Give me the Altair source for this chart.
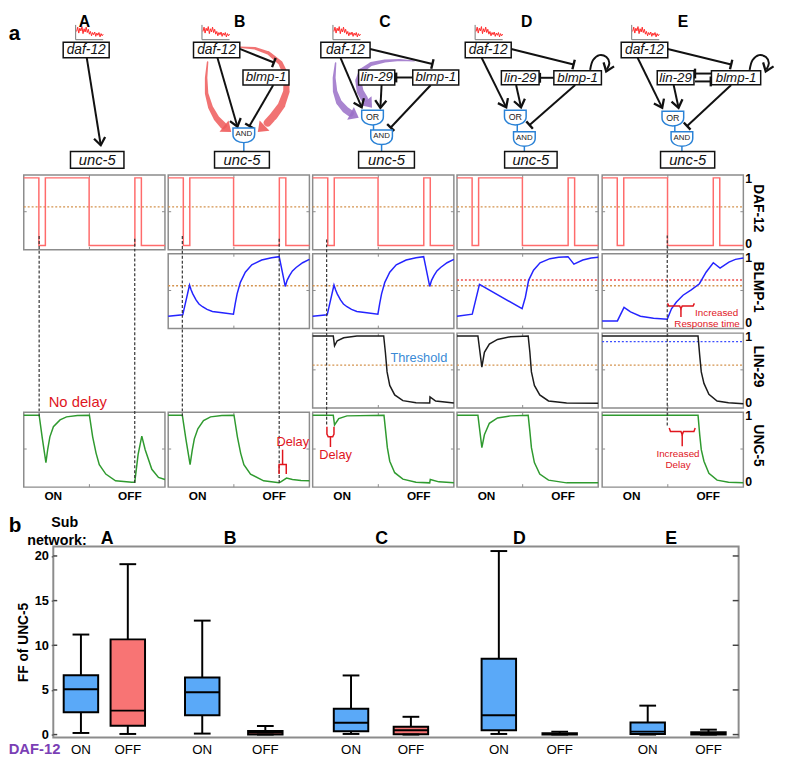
import altair as alt
import pandas as pd

# =====================================================================
# DATA
# time axis of every small panel: 0..100 = panel width
# =====================================================================
COLS = ["A", "B", "C", "D", "E"]
ROWS = ["DAF-12", "BLMP-1", "LIN-29", "UNC-5"]

daf_t = [0, 10.7, 10.7, 15.3, 15.3, 46.3, 46.3, 78.7, 78.7, 83.3, 83.3, 100]
daf_v = [1, 1, 0, 0, 1, 1, 0, 0, 1, 1, 0, 0]

blmp_bc_t = [0, 10.3, 15.1, 16.2, 17.4, 19.7, 21.8, 24.3, 27.5, 31.3, 38.3, 46.2, 47.5,
             48.8, 51.1, 54.6, 59.2, 66.2, 73.2, 78.6, 82.9, 84.2, 85.9, 88.0, 90.6, 95.2, 100]
blmp_bc_v = [0.12, 0.14, 0.58, 0.51, 0.45, 0.36, 0.30, 0.26, 0.22, 0.19, 0.17, 0.15, 0.31,
             0.45, 0.62, 0.77, 0.88, 0.95, 0.985, 1.0, 0.56, 0.65, 0.72, 0.79, 0.84, 0.91, 0.96]
blmp_d_t = [0, 10.8, 15.9, 46.1, 48.4, 50.7, 54.2, 58.8, 65.8, 72.0, 78.6, 82.8, 89.1, 95.0, 100]
blmp_d_v = [0.12, 0.15, 0.59, 0.23, 0.40, 0.65, 0.80, 0.91, 0.97, 0.99, 1.0, 0.89, 0.95, 0.98, 0.99]
blmp_e_t = [0, 10.8, 15.5, 20.1, 27.1, 36.4, 46.1, 49.1, 52.6, 57.3, 63.1, 68.9, 73.6, 78.7,
            83.5, 89.8, 94.4, 100]
blmp_e_v = [0.05, 0.05, 0.25, 0.185, 0.12, 0.09, 0.075, 0.23, 0.33, 0.43, 0.51, 0.60, 0.77, 0.91,
            0.83, 0.92, 0.96, 0.98]

lin_c_t = [0, 14.6, 15.5, 17.4, 22.0, 31.3, 50.3, 51.5, 52.7, 54.6, 58.1, 63.9, 73.2, 82.9,
           83.1, 87.1, 100]
lin_c_v = [1, 1, 0.855, 0.93, 0.975, 1.0, 1.0, 0.76, 0.47, 0.27, 0.13, 0.045, 0.015, 0.01,
           0.10, 0.04, 0.01]
lin_d_t = [0, 14.8, 17.6, 19.4, 22.9, 28.7, 38.0, 50.4, 51.6, 52.7, 54.8, 58.6, 64.8, 77.6, 100]
lin_d_v = [1, 1, 0.54, 0.76, 0.88, 0.95, 0.99, 1.0, 0.76, 0.47, 0.27, 0.13, 0.04, 0.01, 0.005]
lin_e_t = [0, 67.9, 69.1, 70.2, 72.1, 75.6, 81.4, 89.5, 100]
lin_e_v = [1, 1, 0.71, 0.47, 0.30, 0.14, 0.04, 0.015, 0.0]

unc_a_t = [0, 10.9, 13.2, 15.7, 17.0, 18.5, 21.0, 25.7, 30.3, 38.0, 46.5, 48.8, 51.2, 53.5,
           58.1, 65.0, 76.6, 78.6, 81.0, 83.6, 86.0, 90.7, 95.4, 100]
unc_a_v = [1, 1, 0.65, 0.30, 0.50, 0.68, 0.83, 0.93, 0.975, 0.995, 1.0, 0.68, 0.44, 0.27,
           0.13, 0.03, 0.01, 0.01, 0.42, 0.69, 0.49, 0.20, 0.08, 0.05]
unc_b_t = [0, 10.0, 12.5, 15.5, 17.0, 18.5, 21.0, 25.0, 30.0, 38.0, 46.6, 49.0, 51.3, 53.6,
           58.3, 67.6, 78.5, 80.0, 83.8, 88.0, 94.0, 100]
unc_b_v = [1, 1, 0.65, 0.27, 0.48, 0.65, 0.80, 0.92, 0.975, 0.995, 1.0, 0.68, 0.44, 0.27,
           0.13, 0.03, 0.0, 0.02, 0.07, 0.05, 0.035, 0.03]
unc_c_t = [0, 14.6, 15.5, 18.5, 24.3, 50.5, 51.7, 52.9, 54.6, 58.1, 63.9, 73.2, 82.9, 83.3, 89.4, 100]
unc_c_v = [1, 1, 0.855, 0.95, 0.99, 1.0, 0.76, 0.52, 0.32, 0.15, 0.055, 0.01, 0.0, 0.05, 0.015, 0.0]
unc_d_t = [0, 14.8, 17.6, 19.4, 22.9, 28.7, 38.0, 50.4, 51.6, 52.7, 54.8, 58.6, 64.8, 77.6, 100]
unc_d_v = [1, 1, 0.52, 0.71, 0.88, 0.96, 0.99, 1.0, 0.76, 0.52, 0.30, 0.13, 0.04, 0.0, 0.0]
unc_e_t = [0, 67.9, 69.1, 70.2, 72.1, 75.6, 81.4, 89.5, 100]
unc_e_v = [1, 1, 0.71, 0.49, 0.32, 0.14, 0.04, 0.01, 0.0]

threshold_level = 0.57
blmp_red_level = 0.655
lin_blue_level = 0.917

# dashed guides: column, time, start level on DAF-12 panel, end level on UNC-5 panel
dash_col = ["A", "A", "B", "B", "C", "E"]
dash_t = [10.9, 78.6, 10.0, 78.6, 9.9, 46.1]
dash_v_top = [0.14, 0.10, 0.14, 0.10, 0.09, 0.15]
dash_v_bot = [0.96, -0.02, 0.96, -0.02, 0.86, 0.83]

# noise sketch over daf-12
noise_v = [0.55, 0.95, 0.40, 0.85, 0.60, 1.00, 0.35, 0.80, 0.50, 0.95, 0.45, 0.75, 0.30,
           0.55, 0.15, 0.45, 0.25, 0.50, 0.10, 0.40, 0.20, 0.45, 0.05, 0.35, 0.15, 0.30]

# panel b: box plot of FF of UNC-5
box_net = ["A", "A", "B", "B", "C", "C", "D", "D", "E", "E"]
box_state = ["ON", "OFF", "ON", "OFF", "ON", "OFF", "ON", "OFF", "ON", "OFF"]
box_lo = [0.18, 0.07, 0.11, 0.0, 0.07, 0.0, 0.07, 0.0, 0.0, 0.0]
box_q1 = [2.5, 0.99, 2.17, 0.02, 0.37, 0.04, 0.48, 0.0, 0.07, 0.0]
box_med = [5.07, 2.68, 4.74, 0.22, 1.32, 0.48, 2.17, 0.07, 0.33, 0.15]
box_q3 = [6.65, 10.66, 6.4, 0.40, 2.9, 0.88, 8.49, 0.15, 1.36, 0.26]
box_hi = [11.2, 19.08, 12.76, 0.96, 6.62, 1.99, 20.55, 0.33, 3.24, 0.55]
y_ticks = [0, 5, 10, 15, 20]

# =====================================================================
# LAYOUT / STYLE
# =====================================================================
PX0 = {"A": 23.3, "B": 170.0, "C": 316.7, "D": 463.3, "E": 610.7}
PY0 = {"DAF-12": 170.7, "BLMP-1": 250.7, "LIN-29": 331.3, "UNC-5": 411.7}
PW, PH = 143.4, 76.0
VMIN, VMAX = -0.063, 1.043
KX = PW / 100.0
KY = PH / (VMAX - VMIN)
PRESENT = {"DAF-12": COLS, "BLMP-1": ["B", "C", "D", "E"], "LIN-29": ["C", "D", "E"], "UNC-5": COLS}
ROW_COLOR = {"DAF-12": "#ff6b6b", "BLMP-1": "#2424ff", "LIN-29": "#1c1c1c", "UNC-5": "#2f9a2f"}
FRAME = "#8c8c8c"
ORANGE = "#d4934e"
RED = "#e0161e"
BLUE_TXT = "#3a8ad6"
GATE_BLUE = "#2a82d6"
FONT = "Liberation Sans"

FX = f"datum.x0 + datum.t * {KX}"
FY = f"datum.y0 + {PH} - (datum.v - ({VMIN})) * {KY}"

XS = alt.Scale(domain=[53.3, 749.3], nice=False, zero=False)
YS = alt.Scale(domain=[8, 520], nice=False, zero=False, reverse=True)


def TX(f):
    return alt.X(f, type="quantitative", scale=XS, axis=None)


def TY(f):
    return alt.Y(f, type="quantitative", scale=YS, axis=None)


def with_panel(df):
    df["x0"] = df["col"].map(PX0)
    df["y0"] = df["row"].map(PY0)
    return df


# ---------------- time series ----------------
CURVES = [(c, "DAF-12", daf_t, daf_v) for c in COLS] + [
    ("B", "BLMP-1", blmp_bc_t, blmp_bc_v), ("C", "BLMP-1", blmp_bc_t, blmp_bc_v),
    ("D", "BLMP-1", blmp_d_t, blmp_d_v), ("E", "BLMP-1", blmp_e_t, blmp_e_v),
    ("C", "LIN-29", lin_c_t, lin_c_v), ("D", "LIN-29", lin_d_t, lin_d_v),
    ("E", "LIN-29", lin_e_t, lin_e_v),
    ("A", "UNC-5", unc_a_t, unc_a_v), ("B", "UNC-5", unc_b_t, unc_b_v),
    ("C", "UNC-5", unc_c_t, unc_c_v), ("D", "UNC-5", unc_d_t, unc_d_v),
    ("E", "UNC-5", unc_e_t, unc_e_v),
]
recs = []
for c, r, ts, vs in CURVES:
    for i, (t, v) in enumerate(zip(ts, vs)):
        recs.append({"col": c, "row": r, "key": c + "|" + r, "ord": i, "t": t, "v": v,
                     "clr": ROW_COLOR[r]})
curves_df = with_panel(pd.DataFrame(recs))

frames_df = with_panel(pd.DataFrame([{"col": c, "row": r} for r in ROWS for c in PRESENT[r]]))

tick_recs = []
for _, p in frames_df.iterrows():
    tb = p.x0 + 46.5 * KX
    ym = p.y0 + PH - (0.5 - VMIN) * KY
    tick_recs += [
        {"x1": tb, "y1": p.y0 + PH, "x2": tb, "y2": p.y0 + PH - 3},
        {"x1": tb, "y1": p.y0, "x2": tb, "y2": p.y0 + 3},
        {"x1": p.x0, "y1": ym, "x2": p.x0 + 3, "y2": ym},
        {"x1": p.x0 + PW - 3, "y1": ym, "x2": p.x0 + PW, "y2": ym},
    ]
ticks_df = pd.DataFrame(tick_recs)

thr_recs = [{"col": c, "row": r, "v": threshold_level, "clr": ORANGE}
            for r in ["DAF-12", "BLMP-1", "LIN-29"] for c in PRESENT[r]]
thr_recs += [{"col": "D", "row": "BLMP-1", "v": blmp_red_level, "clr": "#ee4a4a"},
             {"col": "E", "row": "BLMP-1", "v": blmp_red_level, "clr": "#ee4a4a"},
             {"col": "E", "row": "LIN-29", "v": lin_blue_level, "clr": "#3a4cff"}]
thr_df = with_panel(pd.DataFrame(thr_recs))

dash_df = pd.DataFrame({"col": dash_col, "t": dash_t, "vt": dash_v_top, "vb": dash_v_bot})
dash_df["x0"] = dash_df["col"].map(PX0)
dash_df["yt"] = PY0["DAF-12"]
dash_df["yb"] = PY0["UNC-5"]

# annotation brackets (panel units)
BRACKETS = [
    ("bd1", "B", "UNC-5", [(78.5, 0.13), (78.5, 0.27), (83.6, 0.27), (83.6, 0.13)]),
    ("bd2", "B", "UNC-5", [(81.0, 0.27), (81.0, 0.49)]),
    ("cd1", "C", "UNC-5", [(10.1, 0.83), (10.1, 0.72), (11.0, 0.68), (14.2, 0.68), (15.1, 0.72), (15.1, 0.83)]),
    ("cd2", "C", "UNC-5", [(12.6, 0.68), (12.6, 0.53)]),
    ("er1", "E", "BLMP-1", [(46.3, 0.31), (47.2, 0.27), (54.9, 0.27), (55.8, 0.23), (56.7, 0.27), (64.4, 0.27), (65.3, 0.31)]),
    ("er2", "E", "BLMP-1", [(55.8, 0.23), (55.8, 0.11)]),
    ("ed1", "E", "UNC-5", [(47.5, 0.81), (48.4, 0.76), (55.8, 0.76), (56.7, 0.71), (57.6, 0.76), (65.0, 0.76), (65.9, 0.81)]),
    ("ed2", "E", "UNC-5", [(56.7, 0.71), (56.7, 0.54)]),
]
br_recs = []
for bid, c, r, pts in BRACKETS:
    for i, (t, v) in enumerate(pts):
        br_recs.append({"id": bid, "col": c, "row": r, "ord": i, "t": t, "v": v})
br_df = with_panel(pd.DataFrame(br_recs))

ANN = [
    ("No delay", "A", "UNC-5", 38.3, 1.19, 15, RED),
    ("Delay", "B", "UNC-5", 88.2, 0.60, 13, RED),
    ("Delay", "C", "UNC-5", 16.2, 0.41, 13, RED),
    ("Threshold", "C", "LIN-29", 75.2, 0.68, 13, BLUE_TXT),
    ("Increased", "E", "BLMP-1", 81.1, 0.17, 10, RED),
    ("Response time", "E", "BLMP-1", 74.3, 0.005, 10, RED),
    ("Increased", "E", "UNC-5", 53.7, 0.43, 10, RED),
    ("Delay", "E", "UNC-5", 53.7, 0.27, 10, RED),
]
ann_df = with_panel(pd.DataFrame(ANN, columns=["label", "col", "row", "t", "v", "fs", "clr"]))

num_df = with_panel(pd.DataFrame(
    [{"label": "1", "col": "E", "row": r, "t": 101.4, "v": 0.985} for r in ROWS] +
    [{"label": "0", "col": "E", "row": r, "t": 101.4, "v": 0.015} for r in ROWS]))
rowname_df = with_panel(pd.DataFrame(
    [{"label": r, "col": "E", "row": r, "t": 110.6, "v": 0.55} for r in ROWS]))
onoff_df = with_panel(pd.DataFrame(
    [{"label": "ON", "col": c, "row": "UNC-5", "t": 20.9, "v": -0.20} for c in COLS] +
    [{"label": "OFF", "col": c, "row": "UNC-5", "t": 75.1, "v": -0.20} for c in COLS]))

# ---------------- network diagrams (layout, figure pixels) ----------------
net_nodes = pd.DataFrame([
    ("daf-12", 86.7, 43.8, 46.7, 15.7, 14), ("unc-5", 97.9, 155.3, 54.3, 17.0, 15),
    ("daf-12", 219.2, 43.8, 47.0, 15.7, 14), ("blmp-1", 269.3, 71.7, 46.7, 15.3, 13.5),
    ("unc-5", 244.9, 155.2, 55.7, 16.7, 15),
    ("daf-12", 350.0, 43.8, 50.0, 15.7, 14), ("lin-29", 381.7, 71.7, 36.7, 15.3, 13.5),
    ("blmp-1", 441.7, 71.7, 46.7, 15.3, 13.5), ("unc-5", 391.7, 155.2, 56.7, 16.7, 15),
    ("daf-12", 495.0, 43.8, 46.7, 15.7, 14), ("lin-29", 527.5, 72.0, 38.3, 14.3, 13.5),
    ("blmp-1", 585.8, 72.0, 48.3, 14.3, 13.5), ("unc-5", 538.3, 155.2, 53.3, 16.7, 15),
    ("daf-12", 653.7, 43.8, 47.3, 15.7, 14), ("lin-29", 685.3, 72.0, 37.3, 14.3, 13.5),
    ("blmp-1", 746.7, 72.0, 50.0, 14.3, 13.5), ("unc-5", 697.5, 155.2, 55.0, 16.7, 15),
], columns=["label", "cx", "cy", "w", "h", "fs"])

net_gates = pd.DataFrame([
    ("AND", 246.8, 129.6), ("OR", 377.5, 111.6), ("AND", 386.7, 131.6),
    ("OR", 522.5, 111.6), ("AND", 531.7, 133.3), ("OR", 682.5, 112.6), ("AND", 691.7, 133.3),
], columns=["label", "cx", "cy"])
net_gates["fs"] = net_gates["label"].map({"AND": 8, "OR": 9})

net_links = pd.DataFrame([
    (246.8, 137.9, 246.8, 146.7), (378.5, 119.9, 378.5, 125.0), (386.7, 139.9, 386.7, 146.7),
    (524.5, 119.9, 524.5, 126.7), (531.7, 141.5, 531.7, 146.7), (684.5, 120.9, 684.5, 126.7),
    (691.7, 141.5, 691.7, 146.7),
], columns=["x1", "y1", "x2", "y2"])

net_edges = pd.DataFrame([
    ("arrow", 87.3, 51.7, 101.5, 140.5),
    ("arrow", 220.0, 51.7, 240.3, 121.7), ("tbar", 242.7, 42.7, 277.3, 56.5),
    ("tbar", 276.7, 79.3, 252.5, 121.0),
    ("arrow", 345.0, 51.7, 366.5, 102.0), ("arrow", 386.7, 79.3, 385.5, 102.5),
    ("tbar", 375.0, 42.7, 438.3, 58.0), ("tbar", 418.3, 71.7, 401.5, 71.7),
    ("tbar", 436.7, 79.3, 396.0, 122.5),
    ("arrow", 488.3, 51.7, 513.3, 102.0), ("arrow", 523.3, 79.3, 528.3, 102.0),
    ("tbar", 518.3, 42.7, 581.7, 58.5), ("tbar", 561.7, 72.0, 547.5, 72.0),
    ("tbar", 583.3, 79.3, 537.0, 120.0),
    ("arrow", 646.7, 51.7, 671.7, 102.5), ("arrow", 683.3, 79.3, 688.3, 102.5),
    ("tbar", 677.3, 42.7, 741.7, 58.5), ("tbar", 721.7, 67.7, 705.0, 67.7),
    ("tbar", 705.0, 75.7, 721.0, 75.7), ("tbar", 741.7, 79.3, 697.0, 121.0),
], columns=["kind", "x1", "y1", "x2", "y2"])

net_loops = pd.DataFrame(
    [("D", i, x, y) for i, (x, y) in enumerate([(598.5, 64), (601.5, 54), (608, 49), (615, 51), (618, 57), (615.5, 63.5)])] +
    [("E", i, x, y) for i, (x, y) in enumerate([(760.5, 64), (763.5, 54), (770, 49), (777, 51), (780, 57), (777.5, 63.5)])],
    columns=["id", "ord", "x", "y"])
loop_heads = pd.DataFrame([("D", 618, 57, 614.8, 65.5), ("E", 780, 57, 776.8, 65.5)],
                          columns=["id", "x1", "y1", "x2", "y2"])

RED_A = "#ee5b5b"
PUR_A = "#9a70c8"
flow_pts = {
    "r1": (RED_A, [(210, 56, 1.5), (208.5, 72, 2.5), (209, 88, 3.5), (213, 102, 5), (219, 113, 6), (226, 120.5, 7)]),
    "r2": (RED_A, [(243, 41, 1.5), (258, 42, 2.5), (272, 47, 3.5), (284, 57, 4.5), (290, 70, 5.5),
                   (290, 86, 6.5), (285, 100, 7.5), (277, 111, 8), (271, 117.5, 8)]),
    "p1": (PUR_A, [(340, 57, 1.5), (338.5, 72, 3), (339.5, 86, 4.5), (343.5, 97, 6), (350, 104.5, 7), (355, 108, 7)]),
    "p2": (PUR_A, [(420, 55, 1), (405, 54, 2), (390, 55, 3), (376, 58, 4), (366, 65, 5), (363, 75, 6),
                   (365, 86, 7), (369, 93, 7.5)]),
}
flow_df = pd.DataFrame([{"id": k, "ord": i, "x": x, "y": y, "w": w, "clr": c}
                        for k, (c, pts) in flow_pts.items() for i, (x, y, w) in enumerate(pts)])
flow_heads = pd.DataFrame([
    ("r1", RED_A, 226, 120.5, 234, 127), ("r2", RED_A, 271, 117.5, 261, 127),
    ("p1", PUR_A, 355, 108, 363.5, 112.5), ("p2", PUR_A, 369, 93, 377, 102.5),
], columns=["id", "clr", "x1", "y1", "x2", "y2"])

noise_ax = [76.0, 204.3, 337.3, 481.7, 640.7]
noise_df = pd.DataFrame([{"k": j, "ord": i, "x": ax + 1 + i * 27.0 / (len(noise_v) - 1), "y": 31.0 - v * 11}
                         for j, ax in enumerate(noise_ax) for i, v in enumerate(noise_v)])
noise_axes = pd.DataFrame([r for ax in noise_ax for r in
                           [(ax, 18.3, ax, 33.3), (ax, 33.3, ax + 28, 33.3)]],
                          columns=["x1", "y1", "x2", "y2"])

letters_df = pd.DataFrame({"label": COLS, "x": [85, 242.7, 390, 534, 692.7], "y": [20.5] * 5})

ANG = "(atan2(datum.x2 - datum.x1, datum.y1 - datum.y2) * 180 / PI + 360) % 360"
HEAD_OPEN = "M -0.75 1 L 0 0 L 0.75 1"
TBAR = "M -1 0 L 1 0"
HEAD_FILL = "M -1 1.3 L 0 0 L 1 1.3 Z"
GATE = "M -1 -0.6 L 1 -0.6 L 1 0 C 1 1 -1 1 -1 0 Z"

layers = []
# panel frames & ticks
layers.append(alt.Chart(frames_df).transform_calculate(
    fx1="datum.x0", fx2=f"datum.x0 + {PW}", fy1="datum.y0", fy2=f"datum.y0 + {PH}"
).mark_rect(filled=False, stroke=FRAME, strokeWidth=1.5).encode(
    x=TX("fx1"), x2=alt.X2("fx2"), y=TY("fy1"), y2=alt.Y2("fy2")))
layers.append(alt.Chart(ticks_df).mark_rule(color=FRAME, strokeWidth=1).encode(
    x=TX("x1"), x2=alt.X2("x2"), y=TY("y1"), y2=alt.Y2("y2")))
# thresholds
layers.append(alt.Chart(thr_df).transform_calculate(
    t="0", fx1="datum.x0", fx2=f"datum.x0 + {PW}"
).transform_calculate(fy=FY).mark_rule(strokeDash=[2, 2], strokeWidth=1.3).encode(
    x=TX("fx1"), x2=alt.X2("fx2"), y=TY("fy"), color=alt.Color("clr:N", scale=None)))
# curves
layers.append(alt.Chart(curves_df).transform_calculate(fx=FX, fy=FY).mark_line(strokeWidth=1.5).encode(
    x=TX("fx"), y=TY("fy"), color=alt.Color("clr:N", scale=None), detail="key:N", order="ord:Q"))
# dashed guides
layers.append(alt.Chart(dash_df).transform_calculate(
    fx=FX,
    fy1=f"datum.yt + {PH} - (datum.vt - ({VMIN})) * {KY}",
    fy2=f"datum.yb + {PH} - (datum.vb - ({VMIN})) * {KY}",
).mark_rule(strokeDash=[3, 2], strokeWidth=1.2, color="#333333").encode(
    x=TX("fx"), y=TY("fy1"), y2=alt.Y2("fy2")))
# brackets
layers.append(alt.Chart(br_df).transform_calculate(fx=FX, fy=FY).mark_line(color=RED, strokeWidth=1.5).encode(
    x=TX("fx"), y=TY("fy"), detail="id:N", order="ord:Q"))
# annotation text
layers.append(alt.Chart(ann_df).transform_calculate(fx=FX, fy=FY).mark_text(baseline="middle", align="center").encode(
    x=TX("fx"), y=TY("fy"), text="label:N", size=alt.Size("fs:Q", scale=None),
    color=alt.Color("clr:N", scale=None)))
layers.append(alt.Chart(num_df).transform_calculate(fx=FX, fy=FY).mark_text(
    align="left", baseline="middle", fontSize=12.5, fontWeight="bold", color="black").encode(
    x=TX("fx"), y=TY("fy"), text="label:N"))
layers.append(alt.Chart(rowname_df).transform_calculate(fx=FX, fy=FY).mark_text(
    align="center", baseline="middle", fontSize=14, fontWeight="bold", angle=90, color="black").encode(
    x=TX("fx"), y=TY("fy"), text="label:N"))
layers.append(alt.Chart(onoff_df).transform_calculate(fx=FX, fy=FY).mark_text(
    align="center", baseline="middle", fontSize=12, fontWeight="bold", color="black").encode(
    x=TX("fx"), y=TY("fy"), text="label:N"))

# ---- network ----
layers.append(alt.Chart(flow_df).mark_trail(opacity=0.85).encode(
    x=TX("x"), y=TY("y"), size=alt.Size("w:Q", scale=None), color=alt.Color("clr:N", scale=None),
    detail="id:N", order="ord:Q"))
layers.append(alt.Chart(flow_heads).transform_calculate(ang=ANG).mark_point(
    shape=HEAD_FILL, filled=True, size=210, opacity=0.9).encode(
    x=TX("x2"), y=TY("y2"), angle=alt.Angle("ang:Q", scale=None), color=alt.Color("clr:N", scale=None)))
layers.append(alt.Chart(noise_axes).mark_rule(color="#777777", strokeWidth=1).encode(
    x=TX("x1"), x2=alt.X2("x2"), y=TY("y1"), y2=alt.Y2("y2")))
layers.append(alt.Chart(noise_df).mark_line(color="#ff2a2a", strokeWidth=1).encode(
    x=TX("x"), y=TY("y"), detail="k:N", order="ord:Q"))
layers.append(alt.Chart(net_edges).mark_rule(color="#111111", strokeWidth=2).encode(
    x=TX("x1"), x2=alt.X2("x2"), y=TY("y1"), y2=alt.Y2("y2")))
layers.append(alt.Chart(net_edges).transform_filter("datum.kind == 'arrow'").transform_calculate(ang=ANG).mark_point(
    shape=HEAD_OPEN, filled=False, size=230, strokeWidth=2.3, color="#111111", opacity=1).encode(
    x=TX("x2"), y=TY("y2"), angle=alt.Angle("ang:Q", scale=None)))
layers.append(alt.Chart(net_edges).transform_filter("datum.kind == 'tbar'").transform_calculate(ang=ANG).mark_point(
    shape=TBAR, filled=False, size=100, strokeWidth=2.4, color="#111111", opacity=1).encode(
    x=TX("x2"), y=TY("y2"), angle=alt.Angle("ang:Q", scale=None)))
layers.append(alt.Chart(net_loops).mark_line(color="#111111", strokeWidth=2, interpolate="catmull-rom").encode(
    x=TX("x"), y=TY("y"), detail="id:N", order="ord:Q"))
layers.append(alt.Chart(loop_heads).transform_calculate(ang=ANG).mark_point(
    shape=HEAD_OPEN, filled=False, size=230, strokeWidth=2.3, color="#111111", opacity=1).encode(
    x=TX("x2"), y=TY("y2"), angle=alt.Angle("ang:Q", scale=None)))
layers.append(alt.Chart(net_links).mark_rule(color=GATE_BLUE, strokeWidth=1.5).encode(
    x=TX("x1"), x2=alt.X2("x2"), y=TY("y1"), y2=alt.Y2("y2")))
layers.append(alt.Chart(net_gates).mark_point(
    shape=GATE, filled=True, fill="white", stroke=GATE_BLUE, strokeWidth=1.5, size=484, opacity=1).encode(
    x=TX("cx"), y=TY("cy")))
layers.append(alt.Chart(net_gates).mark_text(baseline="middle", align="center", color="#222222").encode(
    x=TX("cx"), y=TY("cy"), text="label:N", size=alt.Size("fs:Q", scale=None)))
layers.append(alt.Chart(net_nodes).transform_calculate(
    x1="datum.cx - datum.w / 2", x2="datum.cx + datum.w / 2",
    y1="datum.cy - datum.h / 2", y2="datum.cy + datum.h / 2",
).mark_rect(fill="white", stroke="#111111", strokeWidth=1.5).encode(
    x=TX("x1"), x2=alt.X2("x2"), y=TY("y1"), y2=alt.Y2("y2")))
layers.append(alt.Chart(net_nodes).mark_text(fontStyle="italic", baseline="middle", align="center",
                                             color="#111111").encode(
    x=TX("cx"), y=TY("cy"), text="label:N", size=alt.Size("fs:Q", scale=None)))
layers.append(alt.Chart(letters_df).mark_text(fontSize=16, fontWeight="bold", align="center",
                                              baseline="alphabetic", color="black").encode(
    x=TX("x"), y=TY("y"), text="label:N"))
layers.append(alt.Chart(pd.DataFrame({"x": [8], "y": [33.4], "label": ["a"]})).mark_text(
    fontSize=21, fontWeight="bold", align="left", baseline="alphabetic", color="black").encode(
    x=TX("x"), y=TY("y"), text="label:N"))

top = alt.layer(*layers).properties(width=696, height=512)

# =====================================================================
# panel b: box plot
# =====================================================================
BH = 194
box_pos = [23.4, 71.7, 148.4, 213.4, 301.7, 363.4, 454.0, 516.7, 607.4, 670.0]
box_df = pd.DataFrame({"net": box_net, "state": box_state, "lo": box_lo, "q1": box_q1,
                       "med": box_med, "q3": box_q3, "hi": box_hi, "pos": box_pos})

BXS = alt.Scale(domain=[0, 696], nice=False, zero=False)
BYS = alt.Scale(domain=[-0.33, 21.06], nice=False, zero=False)
YAX = alt.Axis(values=y_ticks, title="FF of UNC-5", titleFontSize=14, titleFontWeight="bold",
               titleColor="black", labelFontSize=13, labelFontWeight="bold", labelColor="black",
               domain=False, grid=False, tickSize=2, tickColor="black", tickWidth=1.5,
               labelPadding=3, titlePadding=4)


def BX(f):
    return alt.X(f, type="quantitative", scale=BXS, axis=None)


def BY(f):
    return alt.Y(f, type="quantitative", scale=BYS, axis=YAX)


one = pd.DataFrame({"a": [0]})
tick_df = pd.DataFrame({"tk": y_ticks})
blay = []
blay.append(alt.Chart(one).mark_rect(filled=False, stroke=FRAME, strokeWidth=2).encode(
    x=alt.value(0), x2=alt.value(696), y=alt.value(0), y2=alt.value(BH)))
blay.append(alt.Chart(tick_df).mark_rule(color="#444444", strokeWidth=1.5).encode(
    y=BY("tk"), x=alt.value(0), x2=alt.value(4)))
blay.append(alt.Chart(tick_df).mark_rule(color="#444444", strokeWidth=1.5).encode(
    y=BY("tk"), x=alt.value(690), x2=alt.value(696)))
blay.append(alt.Chart(box_df).mark_rule(color="black", strokeWidth=2).encode(
    x=BX("pos"), y=BY("lo"), y2=alt.Y2("hi")))
blay.append(alt.Chart(box_df).mark_bar(size=35, stroke="black", strokeWidth=2, opacity=1).encode(
    x=BX("pos"), y=BY("q1"), y2=alt.Y2("q3"),
    color=alt.Color("state:N", scale=alt.Scale(domain=["ON", "OFF"], range=["#5aa9f8", "#f87474"]),
                    legend=None)))
blay.append(alt.Chart(box_df).mark_tick(orient="horizontal", size=35, thickness=2, color="black", opacity=1).encode(
    x=BX("pos"), y=BY("med")))
blay.append(alt.Chart(box_df).mark_tick(orient="horizontal", size=17, thickness=2, color="black", opacity=1).encode(
    x=BX("pos"), y=BY("hi")))
blay.append(alt.Chart(box_df).mark_tick(orient="horizontal", size=17, thickness=2, color="black", opacity=1).encode(
    x=BX("pos"), y=BY("lo")))
blay.append(alt.Chart(box_df).mark_text(fontSize=13.5, baseline="alphabetic", color="black").encode(
    x=BX("pos"), y=alt.value(BH + 16.3), text="state:N"))

hdr = pd.DataFrame({
    "label": ["b", "Sub", "network:", "A", "B", "C", "D", "E", "DAF-12"],
    "px": [-45.3, 11.7, 3.7, 54.7, 179.7, 333.4, 473.4, 627.4, -45.3],
    "py": [-14.7, -19.7, -1.5, -3.0, -3.0, -3.0, -3.0, -3.0, BH + 16.3],
    "fs": [21, 14.5, 14.5, 18, 18, 18, 18, 18, 15],
    "al": ["left", "center", "center", "center", "center", "center", "center", "center", "left"],
    "clr": ["black"] * 8 + ["#7b3fb5"],
})
for al in ["left", "center"]:
    blay.append(alt.Chart(hdr).transform_filter(f"datum.al == '{al}'").mark_text(
        fontWeight="bold", baseline="alphabetic", align=al).encode(
        x=alt.X("px:Q", scale=None, axis=None), y=alt.Y("py:Q", scale=None, axis=None),
        text="label:N", size=alt.Size("fs:Q", scale=None), color=alt.Color("clr:N", scale=None)))

bottom = alt.layer(*blay).properties(width=696, height=BH)

chart = alt.vconcat(top, bottom, spacing=28, bounds="flush").properties(padding=0).configure(
    font=FONT).configure_view(stroke="transparent")

chart.save("out.html", embed_options={"renderer": "svg", "actions": False})
